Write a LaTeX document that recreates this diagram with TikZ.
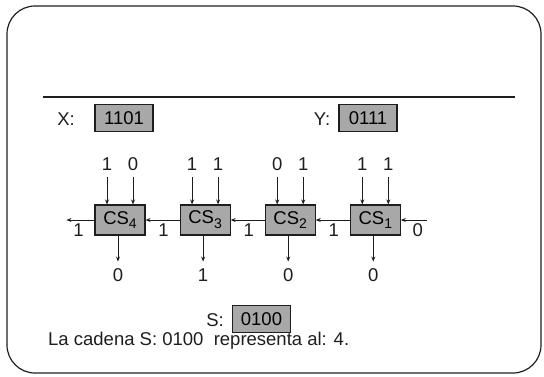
\documentclass[tikz,border=0pt]{standalone}
\usepackage{fontspec}
\setmainfont{Liberation Sans}
\usetikzlibrary{arrows.meta, positioning, calc}
\definecolor{cellfill}{HTML}{A8A8A8}
\definecolor{linedark}{HTML}{1E1E1E}
\tikzset{
    csblock/.style={
        rectangle, draw=linedark, fill=cellfill, line width=1.1pt,
        minimum width=50pt, minimum height=30pt, inner sep=0pt,
        font=\fontsize{18.5}{21}\selectfont
    },
    valbox/.style={
        rectangle, draw=linedark, fill=cellfill, line width=1.1pt,
        minimum width=58pt, minimum height=27pt, inner sep=0pt,
        font=\fontsize{18.5}{21}\selectfont
    },
    bitlab/.style={
        font=\fontsize{18.5}{21}\selectfont, inner sep=0pt, text=linedark
    },
    sigarrow/.style={
        -{Stealth[length=5pt, width=4pt]}, line width=0.9pt, draw=linedark
    },
}
\newcommand{\cslab}[1]{CS\raisebox{-0.5ex}{\fontsize{14}{14}\selectfont #1}}

\begin{document}
\begin{tikzpicture}[x=1pt, y=-1pt]
    \useasboundingbox (0,0) rectangle (544,376);

    % ── Frame and rule ──
    \draw[line width=1.2pt, draw=linedark, rounded corners=28pt] (7,6) rectangle (541,373);
    \draw[line width=1.3pt, draw=linedark] (43,97) coordinate (rulel) -- (515,97) coordinate (ruler);

    % ── Operands ──
    \node[bitlab] (xlab) at (66,119) {X:};
    \node[valbox] (xval) at (124,118) {1101};
    \node[bitlab] (ylab) at (322,119) {Y:};
    \node[valbox] (yval) at (368,118) {0111};

    % ── Adder cells ──
    \node[csblock] (cs4) at (120,220) {\cslab{4}};
    \node[csblock, right=34pt of cs4] (cs3) {\cslab{3}};
    \node[csblock, right=34pt of cs3] (cs2) {\cslab{2}};
    \node[csblock, right=34pt of cs2] (cs1) {\cslab{1}};

    % ── Inputs, outputs and carries into each cell ──
    \foreach \blk/\xa/\yb/\so in {4/1/0/0, 3/1/1/1, 2/0/1/0, 1/1/1/0} {
        \coordinate (ina\blk) at ($(cs\blk.north)+(-13,-27)$);
        \coordinate (inb\blk) at ($(cs\blk.north)+(13,-27)$);
        \node[bitlab] (xin\blk) at ($(cs\blk.north)+(-13,-40)$) {\xa};
        \node[bitlab] (yin\blk) at ($(cs\blk.north)+(13,-40)$) {\yb};
        \draw[sigarrow] (ina\blk) -- (ina\blk |- cs\blk.north);
        \draw[sigarrow] (inb\blk) -- (inb\blk |- cs\blk.north);
        \coordinate (out\blk) at ($(cs\blk.south)+(-2,26)$);
        \draw[sigarrow] (cs\blk.south -| out\blk) -- (out\blk);
        \node[bitlab] (sout\blk) at ($(cs\blk.south)+(-2,40)$) {\so};
        \node[bitlab] (cy\blk) at ($(cs\blk.west)+(-16,10)$) {1};
    }

    % ── Carry chain ──
    \coordinate (cin) at ($(cs1.east)+(26,0)$);
    \coordinate (cout) at ($(cs4.west)+(-28,0)$);
    \node[bitlab] (cy0) at ($(cs1.east)+(17,10)$) {0};
    \draw[sigarrow] (cin) -- (cs1.east);
    \draw[sigarrow] (cs1.west) -- (cs2.east);
    \draw[sigarrow] (cs2.west) -- (cs3.east);
    \draw[sigarrow] (cs3.west) -- (cs4.east);
    \draw[sigarrow] (cs4.west) -- (cout);

    % ── Result ──
    \node[bitlab] (slab) at (215,320) {S:};
    \node[valbox] (sval) at (261.5,319) {0100};
    \node[bitlab, anchor=west] (note) at (48,341) {La cadena S: 0100~ representa al: 4.};

\end{tikzpicture}
\end{document}
